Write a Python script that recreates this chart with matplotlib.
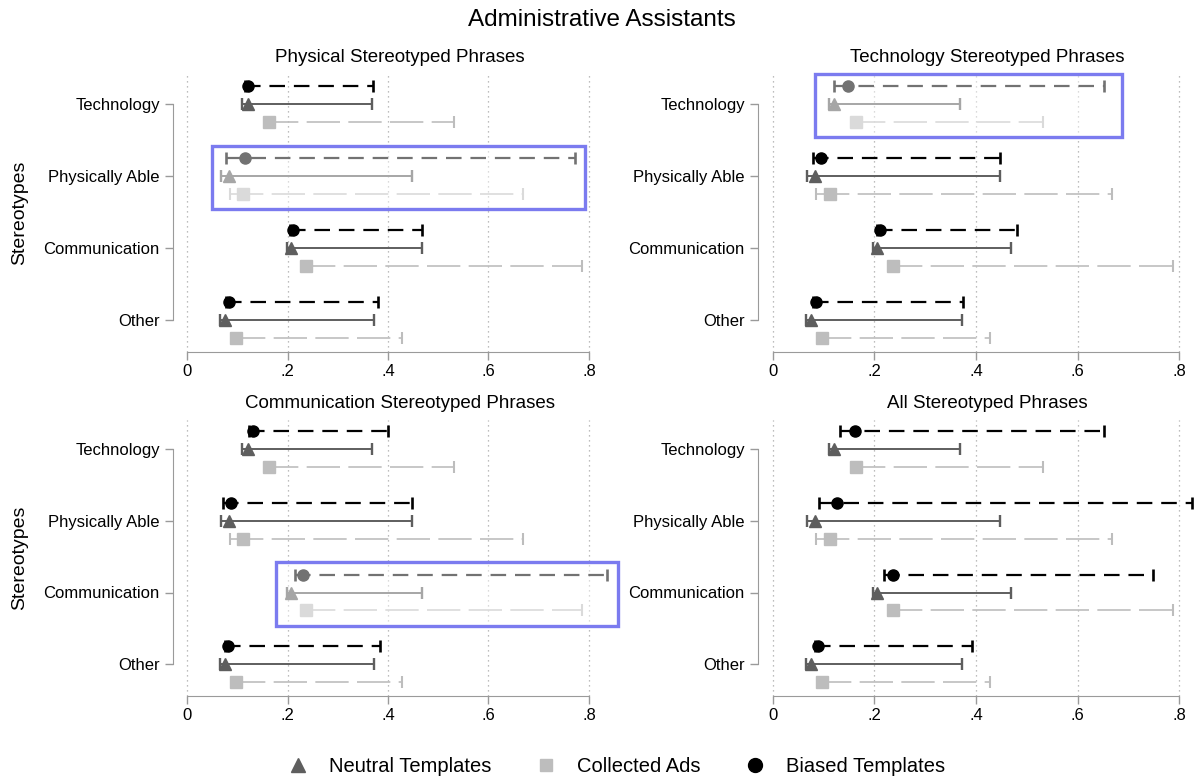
"""Administrative Assistants: stereotype rates by phrase set (2x2 dot-and-interval panels)."""
import matplotlib
matplotlib.use("Agg")
import matplotlib.pyplot as plt
from matplotlib.lines import Line2D
from matplotlib.patches import Rectangle
import numpy as np

plt.rcParams["font.family"] = ["Liberation Sans", "DejaVu Sans"]

CATEGORIES = ["Technology", "Physically Able", "Communication", "Other"]
PANEL_TITLES = [
    "Physical Stereotyped Phrases",
    "Technology Stereotyped Phrases",
    "Communication Stereotyped Phrases",
    "All Stereotyped Phrases",
]
X_TICKS = [0, 0.2, 0.4, 0.6, 0.8]
X_TICK_LABELS = ["0", ".2", ".4", ".6", ".8"]

# neutral templates and collected ads are the same in every panel
neutral_est = [0.121, 0.084, 0.206, 0.076]
neutral_lo = [0.110, 0.068, 0.198, 0.066]
neutral_hi = [0.369, 0.447, 0.468, 0.372]

ads_est = [0.163, 0.112, 0.237, 0.097]
ads_lo = [0.156, 0.085, 0.229, 0.090]
ads_hi = [0.532, 0.668, 0.787, 0.428]

# biased templates, one row per panel
biased_est = [
    [0.122, 0.116, 0.211, 0.084],
    [0.148, 0.095, 0.212, 0.085],
    [0.131, 0.087, 0.230, 0.082],
    [0.161, 0.127, 0.236, 0.090],
]
biased_lo = [
    [0.116, 0.077, 0.204, 0.078],
    [0.121, 0.080, 0.205, 0.079],
    [0.124, 0.072, 0.215, 0.076],
    [0.133, 0.092, 0.219, 0.084],
]
biased_hi = [
    [0.371, 0.772, 0.468, 0.381],
    [0.652, 0.447, 0.481, 0.374],
    [0.400, 0.447, 0.836, 0.385],
    [0.652, 0.826, 0.748, 0.392],
]

# highlighted category per panel (None = no box) and the box's x extent
HIGHLIGHT = ["Physically Able", "Technology", "Communication", None]
HIGHLIGHT_X = [(0.049, 0.793), (0.083, 0.687), (0.177, 0.858), None]

C_BIASED = "#000000"
C_NEUTRAL = "#5e5e5e"
C_ADS = "#bdbdbd"
C_BOX = "#7b7bef"
C_AXIS = "#9a9a9a"

OFFSET = 0.25

FIG_W, FIG_H = 1204, 782
fig = plt.figure(figsize=(FIG_W / 100, FIG_H / 100), dpi=100)

# axes rects in pixels: (left, top, right, bottom)
rects_px = [
    (173, 75, 609, 351.7),
    (758, 75, 1199, 351.7),
    (173, 420, 609, 696),
    (758, 420, 1199, 696),
]
xlims = [(-0.028, 0.84), (-0.029, 0.839), (-0.028, 0.84), (-0.029, 0.839)]


def draw_series(ax, ypos, est, lo, hi, color, ls, lw, marker, ms):
    ax.hlines(ypos, lo, hi, colors=color, linestyles=[ls], linewidth=lw, zorder=3)
    ax.plot(lo, ypos, ls="none", marker="|", color=color, ms=8, mew=lw + 0.3, zorder=3)
    ax.plot(hi, ypos, ls="none", marker="|", color=color, ms=8, mew=lw + 0.3, zorder=3)
    ax.plot(est, ypos, ls="none", marker=marker, color=color, ms=ms, mec=color, zorder=4)


y = np.arange(len(CATEGORIES))
for i, (l, t, r, b) in enumerate(rects_px):
    ax = fig.add_axes([l / FIG_W, 1 - b / FIG_H, (r - l) / FIG_W, (b - t) / FIG_H])
    ax.set_xlim(*xlims[i])
    ax.set_ylim(3.44, -0.40)

    draw_series(ax, y - OFFSET, biased_est[i], biased_lo[i], biased_hi[i],
                C_BIASED, (0, (7, 4)), 1.6, "o", 8)
    draw_series(ax, y, neutral_est, neutral_lo, neutral_hi,
                C_NEUTRAL, "solid", 1.4, "^", 8.5)
    draw_series(ax, y + OFFSET, ads_est, ads_lo, ads_hi,
                C_ADS, (0, (20, 5)), 1.2, "s", 8)

    if HIGHLIGHT[i] is not None:
        k = CATEGORIES.index(HIGHLIGHT[i])
        x0, x1 = HIGHLIGHT_X[i]
        y0, y1 = k - 0.42, k + 0.46
        # faded look inside the box, then the blue frame
        ax.add_patch(Rectangle((x0, y0), x1 - x0, y1 - y0, facecolor="white",
                               edgecolor="none", alpha=0.45, zorder=5, clip_on=False))
        ax.add_patch(Rectangle((x0, y0), x1 - x0, y1 - y0, facecolor="none",
                               edgecolor=C_BOX, linewidth=2.4, zorder=6, clip_on=False))

    ax.set_xticks(X_TICKS)
    ax.set_xticklabels(X_TICK_LABELS, fontsize=12)
    ax.set_yticks(y)
    ax.set_yticklabels(CATEGORIES, fontsize=12)
    ax.grid(axis="x", linestyle=(0, (1, 3)), color="#a8a8a8", linewidth=0.9)
    ax.set_axisbelow(True)
    for side in ("top", "right"):
        ax.spines[side].set_visible(False)
    ax.spines["left"].set_bounds(0, 3)
    ax.spines["bottom"].set_bounds(0, 0.8)
    ax.spines["left"].set_color(C_AXIS)
    ax.spines["bottom"].set_color(C_AXIS)
    ax.tick_params(axis="both", colors=C_AXIS, labelcolor="black", length=6, width=1)
    ax.tick_params(axis="x", pad=3)
    ax.set_title(PANEL_TITLES[i], fontsize=13.5, pad=9, x=0.52)

for yc in (213, 558):
    fig.text(20 / FIG_W, 1 - yc / FIG_H, "Stereotypes", rotation=90,
             ha="center", va="center", fontsize=14)

fig.suptitle("Administrative Assistants", y=1 - 20 / FIG_H, va="center", fontsize=17.5)

handles = [
    Line2D([], [], ls="none", marker="^", color=C_NEUTRAL, ms=10, label="Neutral Templates"),
    Line2D([], [], ls="none", marker="s", color=C_ADS, ms=9, label="Collected Ads"),
    Line2D([], [], ls="none", marker="o", color=C_BIASED, ms=10, label="Biased Templates"),
]
fig.legend(handles=handles, loc="center", bbox_to_anchor=(0.508, 1 - 767 / FIG_H), ncol=3,
           frameon=False, fontsize=14.5, handletextpad=0.55, columnspacing=1.7)

fig.savefig("out.png", dpi=100)
